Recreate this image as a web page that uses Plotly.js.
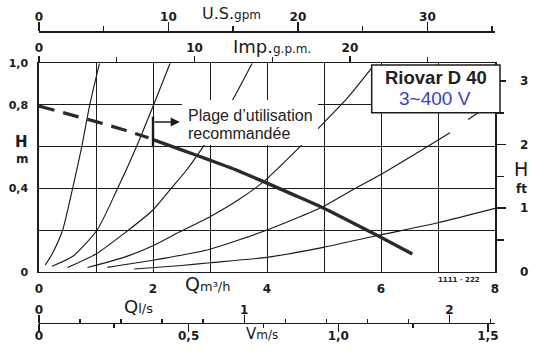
<!DOCTYPE html>
<html><head><meta charset="utf-8">
<script src="https://cdn.plot.ly/plotly-3.0.1.min.js"></script>
<style>html,body{margin:0;padding:0;background:#fff}#chart{width:538px;height:354px}</style>
</head><body><div id="chart"></div>
<script>
// ---------- data ----------
// pump curve H (m) vs Q (m3/h)
const pumpDashQ = [0, 0.5, 1.0, 1.5, 1.92];
const pumpDashH = [0.795, 0.758, 0.72, 0.68, 0.643];
const pumpQ = [2.0, 2.5, 3.0, 3.46, 3.94, 4.5, 4.96, 5.5, 5.98, 6.55];
const pumpH = [0.634, 0.585, 0.535, 0.488, 0.432, 0.365, 0.309, 0.235, 0.168, 0.085];
// system curves
const sys1Q = [0.11, 0.24, 0.415, 0.59, 0.75, 0.89, 1.06];
const sys1H = [0.032, 0.09, 0.2, 0.4, 0.6, 0.8, 1.0];
const sys2Q = [0.23, 0.6, 1.02, 1.38, 1.71, 2.01, 2.3];
const sys2H = [0.026, 0.075, 0.2, 0.4, 0.6, 0.8, 1.0];
const sys3Q = [0.5, 1.0, 1.5, 2.0, 2.32, 2.59, 2.88, 3.38, 3.74];
const sys3H = [0.02, 0.085, 0.185, 0.296, 0.4, 0.488, 0.6, 0.816, 1.0];
const sys4Q = [0.85, 1.5, 2.0, 2.46, 3.0, 3.5, 3.94, 4.58, 4.93, 5.4, 5.86];
const sys4H = [0.02, 0.07, 0.125, 0.19, 0.264, 0.345, 0.432, 0.6, 0.696, 0.83, 0.985];
const sys5Q = [1.2, 2.0, 3.0, 4.0, 4.96, 5.48, 5.98, 6.6, 7.21, null, 7.53, 7.85];
const sys5H = [0.021, 0.055, 0.108, 0.2, 0.309, 0.39, 0.464, 0.565, 0.667, null, 0.73, 0.79];
const sys6Q = [1.67, 2.5, 3.0, 4.0, 4.99, 5.98, 7.0, 8.0];
const sys6H = [0.013, 0.03, 0.043, 0.069, 0.117, 0.176, 0.235, 0.304];
// recommended range marker
const plageQ = [2.0, 2.47];
const plageH = [0.597, 0.744];
const plageArrowH = 0.718;

// axis ticks
const qTicks = [0, 1, 2, 3, 4, 5, 6, 7, 8];
const qTickText = ['0', '', '2', '', '4', '', '6', '', '8'];
const hTicks = [0, 0.2, 0.4, 0.6, 0.8, 1.0];
const hTickText = ['0', '', '0,4', '', '0,8', '1,0'];
const ftLabelVals = [0, 1, 2, 3];
const ftLabelText = ['0', '1', '2', '3'];
const ftMajor = [1, 2, 3];
const ftMinor = [0.5, 1.5, 2.5];
const usMajor = [0, 10, 20, 30];
const usMinor = [5, 15, 25, 35];
const impMajor = [0, 10, 20];
const impMinor = [5, 15, 25];
const lsMajor = [0, 1, 2];
const lsMinor = [0.2, 0.4, 0.6, 0.8, 1.2, 1.4, 1.6, 1.8, 2.2];
const vMajor = [0, 0.5, 1.0, 1.5];
const vTickText = ['0', '0,5', '1,0', '1,5'];
const vMinor = [0.25, 0.75, 1.25];

// unit conversions
const Q_MAX = 8;
const M3H_TO_USGPM = 4.4029;
const M3H_TO_IMPGPM = 3.6662;
const M3H_PER_LS = 3.6;
const M_PER_FT = 0.3048;
const M3H_PER_MS = 5.25;

// ---------- layout geometry (pixels) ----------
const W = 538, H = 354;
const L = 39, R = 495, T = 63.3, B = 271.7;
const fx = p => p / W, fy = p => 1 - p / H;

const FONT = 'DejaVu Sans, Liberation Sans, Arial, sans-serif';
const ARIAL = 'Liberation Sans, Arial, Helvetica, sans-serif';
const INK = '#1b1b1b';
const tickFont = {family: FONT, size: 12, color: INK, weight: 'bold'};

const dummy = (xa, ya) => ({x: [0], y: [0], xaxis: xa, yaxis: ya, mode: 'markers',
  marker: {opacity: 0, size: 1}, hoverinfo: 'skip', showlegend: false});
const sysLine = (q, h) => ({x: q, y: h, mode: 'lines', connectgaps: false,
  line: {color: INK, width: 1.15, shape: 'spline', smoothing: 0.6}, hoverinfo: 'skip', showlegend: false});

const traces = [
  sysLine(sys1Q, sys1H), sysLine(sys2Q, sys2H), sysLine(sys3Q, sys3H),
  sysLine(sys4Q, sys4H), sysLine(sys5Q, sys5H), sysLine(sys6Q, sys6H),
  {x: pumpDashQ, y: pumpDashH, mode: 'lines', line: {color: '#2a2a2a', width: 3.2, dash: '16px,9px'}, hoverinfo: 'skip', showlegend: false},
  {x: pumpQ, y: pumpH, mode: 'lines', line: {color: '#2a2a2a', width: 3.4, shape: 'spline', smoothing: 0.5}, hoverinfo: 'skip', showlegend: false},
  dummy('x2', 'y'), dummy('x3', 'y'), dummy('x4', 'y'), dummy('x5', 'y'),
  dummy('x', 'y2'), dummy('x', 'y3')
];

const baseAx = {showgrid: false, zeroline: false, fixedrange: true, tickfont: tickFont,
  tickcolor: INK, tickwidth: 1.4, linecolor: INK, linewidth: 1.5};
const dom = [fx(L), fx(R)];

const layout = {
  width: W, height: H, margin: {l: 0, r: 0, t: 0, b: 0, pad: 0},
  paper_bgcolor: '#fff', plot_bgcolor: '#fff', showlegend: false,
  xaxis: Object.assign({}, baseAx, {domain: dom, range: [0, Q_MAX], tickmode: 'array',
    tickvals: qTicks, ticktext: qTickText, showgrid: true, gridcolor: INK, gridwidth: 1,
    showline: true, mirror: true, linewidth: 1.6, ticks: '', ticklabelstandoff: 5}),
  yaxis: Object.assign({}, baseAx, {domain: [fy(B), fy(T)], range: [0, 1], tickmode: 'array',
    tickvals: hTicks, ticktext: hTickText, showgrid: true, gridcolor: INK, gridwidth: 1,
    showline: true, mirror: true, linewidth: 1.6, ticks: '', ticklabelstandoff: 7,
    tickfont: Object.assign({}, tickFont, {size: 11})}),
  yaxis2: Object.assign({}, baseAx, {overlaying: 'y', side: 'right', anchor: 'x',
    range: [0, 1 / M_PER_FT], tickmode: 'array', tickvals: ftMajor, showticklabels: false,
    ticks: 'outside', ticklen: 9,
    minor: {tickmode: 'array', tickvals: ftMinor, ticks: 'outside', ticklen: 7, tickwidth: 1.4, tickcolor: INK}}),
  yaxis3: Object.assign({}, baseAx, {overlaying: 'y', side: 'right', anchor: 'free', position: fx(R),
    range: [0, 1 / M_PER_FT], tickmode: 'array', tickvals: ftLabelVals, ticktext: ftLabelText,
    ticks: '', ticklabelstandoff: 21}),
  xaxis2: Object.assign({}, baseAx, {overlaying: 'x', side: 'top', anchor: 'y',
    range: [0, Q_MAX * M3H_TO_IMPGPM], tickmode: 'array', tickvals: impMajor,
    ticks: 'outside', ticklen: 6,
    minor: {tickmode: 'array', tickvals: impMinor, ticks: 'outside', ticklen: 5, tickwidth: 1.4, tickcolor: INK},
    ticklabelstandoff: -1}),
  xaxis3: Object.assign({}, baseAx, {overlaying: 'x', side: 'top', anchor: 'free', position: fy(31),
    range: [0, Q_MAX * M3H_TO_USGPM], tickmode: 'array', tickvals: usMajor,
    ticks: 'outside', ticklen: 9, showline: true,
    minor: {tickmode: 'array', tickvals: usMinor, ticks: 'outside', ticklen: 5, tickwidth: 1.4, tickcolor: INK},
    ticklabelstandoff: -4}),
  xaxis4: Object.assign({}, baseAx, {overlaying: 'x', side: 'top', anchor: 'free', position: fy(322.7),
    range: [0, Q_MAX / M3H_PER_LS], tickmode: 'array', tickvals: lsMajor,
    ticks: 'outside', ticklen: 8, showline: true,
    minor: {tickmode: 'array', tickvals: lsMinor, ticks: 'outside', ticklen: 4, tickwidth: 1.4, tickcolor: INK},
    ticklabelstandoff: -4}),
  xaxis5: Object.assign({}, baseAx, {overlaying: 'x', side: 'bottom', anchor: 'free', position: fy(322.7),
    range: [0, Q_MAX / M3H_PER_MS], tickmode: 'array', tickvals: vMajor, ticktext: vTickText,
    ticks: 'outside', ticklen: 8,
    minor: {tickmode: 'array', tickvals: vMinor, ticks: 'outside', ticklen: 4, tickwidth: 1.4, tickcolor: INK},
    ticklabelstandoff: -7}),
  shapes: [
    {type: 'rect', xref: 'paper', yref: 'paper', x0: fx(182), x1: fx(318), y0: fy(145), y1: fy(100),
      fillcolor: '#fff', line: {width: 0}, layer: 'above'},
    {type: 'rect', xref: 'paper', yref: 'paper', x0: fx(371.7), x1: fx(500), y0: fy(112.7), y1: fy(65),
      fillcolor: '#fff', line: {color: INK, width: 1.5}, layer: 'above'},
    {type: 'line', xref: 'x', yref: 'y', x0: plageQ[0], x1: plageQ[0], y0: plageH[0], y1: plageH[1],
      line: {color: INK, width: 2.4}, layer: 'above'}
  ],
  annotations: [
    {xref: 'x', yref: 'y', x: plageQ[1], y: plageArrowH, axref: 'x', ayref: 'y', ax: plageQ[0], ay: plageArrowH,
      text: '', showarrow: true, arrowhead: 2, arrowsize: 1.3, arrowwidth: 1.4, arrowcolor: INK, standoff: 0, startstandoff: 0},
    {xref: 'paper', yref: 'paper', x: fx(186), y: fy(115.2), xanchor: 'left', yanchor: 'middle', showarrow: false,
      text: 'Plage d’utilisation', font: {family: ARIAL, size: 16, color: '#222'}},
    {xref: 'paper', yref: 'paper', x: fx(186), y: fy(133.2), xanchor: 'left', yanchor: 'middle', showarrow: false,
      text: 'recommandée', font: {family: ARIAL, size: 16, color: '#222'}},
    {xref: 'paper', yref: 'paper', x: fx(435.5), y: fy(77.5), xanchor: 'center', yanchor: 'middle', showarrow: false,
      text: 'Riovar D 40', font: {family: ARIAL, size: 18.5, color: '#222', weight: 'bold'}},
    {xref: 'paper', yref: 'paper', x: fx(435), y: fy(98.3), xanchor: 'center', yanchor: 'middle', showarrow: false,
      text: '3~400 V', font: {family: ARIAL, size: 19, color: '#3d3dc4'}},
    {xref: 'paper', yref: 'paper', x: fx(200), y: fy(13), xanchor: 'left', yanchor: 'middle', showarrow: false,
      text: 'U.S.<span style="font-size:12px">gpm</span>', font: {family: FONT, size: 16, color: INK}},
    {xref: 'paper', yref: 'paper', x: fx(231), y: fy(47), xanchor: 'left', yanchor: 'middle', showarrow: false,
      text: 'Imp.<span style="font-size:12px">g.p.m.</span>', font: {family: FONT, size: 18, color: INK}},
    {xref: 'paper', yref: 'paper', x: fx(21.5), y: fy(141.7), xanchor: 'center', yanchor: 'middle', showarrow: false,
      text: 'H', font: {family: FONT, size: 15, color: INK, weight: 'bold'}},
    {xref: 'paper', yref: 'paper', x: fx(22.5), y: fy(158.5), xanchor: 'center', yanchor: 'middle', showarrow: false,
      text: 'm', font: {family: FONT, size: 12, color: INK, weight: 'bold'}},
    {xref: 'paper', yref: 'paper', x: fx(521), y: fy(169), xanchor: 'center', yanchor: 'middle', showarrow: false,
      text: 'H', font: {family: FONT, size: 19, color: INK}},
    {xref: 'paper', yref: 'paper', x: fx(521), y: fy(189), xanchor: 'center', yanchor: 'middle', showarrow: false,
      text: 'ft', font: {family: FONT, size: 12, color: INK, weight: 'bold'}},
    {xref: 'paper', yref: 'paper', x: fx(183), y: fy(284.3), xanchor: 'left', yanchor: 'middle', showarrow: false,
      text: 'Q<span style="font-size:13px">m³/h</span>', font: {family: FONT, size: 19, color: INK}},
    {xref: 'paper', yref: 'paper', x: fx(122), y: fy(306.7), xanchor: 'left', yanchor: 'middle', showarrow: false,
      text: 'Q<span style="font-size:13px">l/s</span>', font: {family: FONT, size: 18, color: INK}},
    {xref: 'paper', yref: 'paper', x: fx(244), y: fy(333.5), xanchor: 'left', yanchor: 'middle', showarrow: false,
      text: 'V<span style="font-size:12px">m/s</span>', font: {family: FONT, size: 15, color: INK}},
    {xref: 'paper', yref: 'paper', x: fx(459), y: fy(279.5), xanchor: 'center', yanchor: 'middle', showarrow: false,
      text: '1111 · 222', font: {family: FONT, size: 7, color: INK, weight: 'bold'}}
  ]
};

Plotly.newPlot('chart', traces, layout, {staticPlot: true, displayModeBar: false});
</script></body></html>
